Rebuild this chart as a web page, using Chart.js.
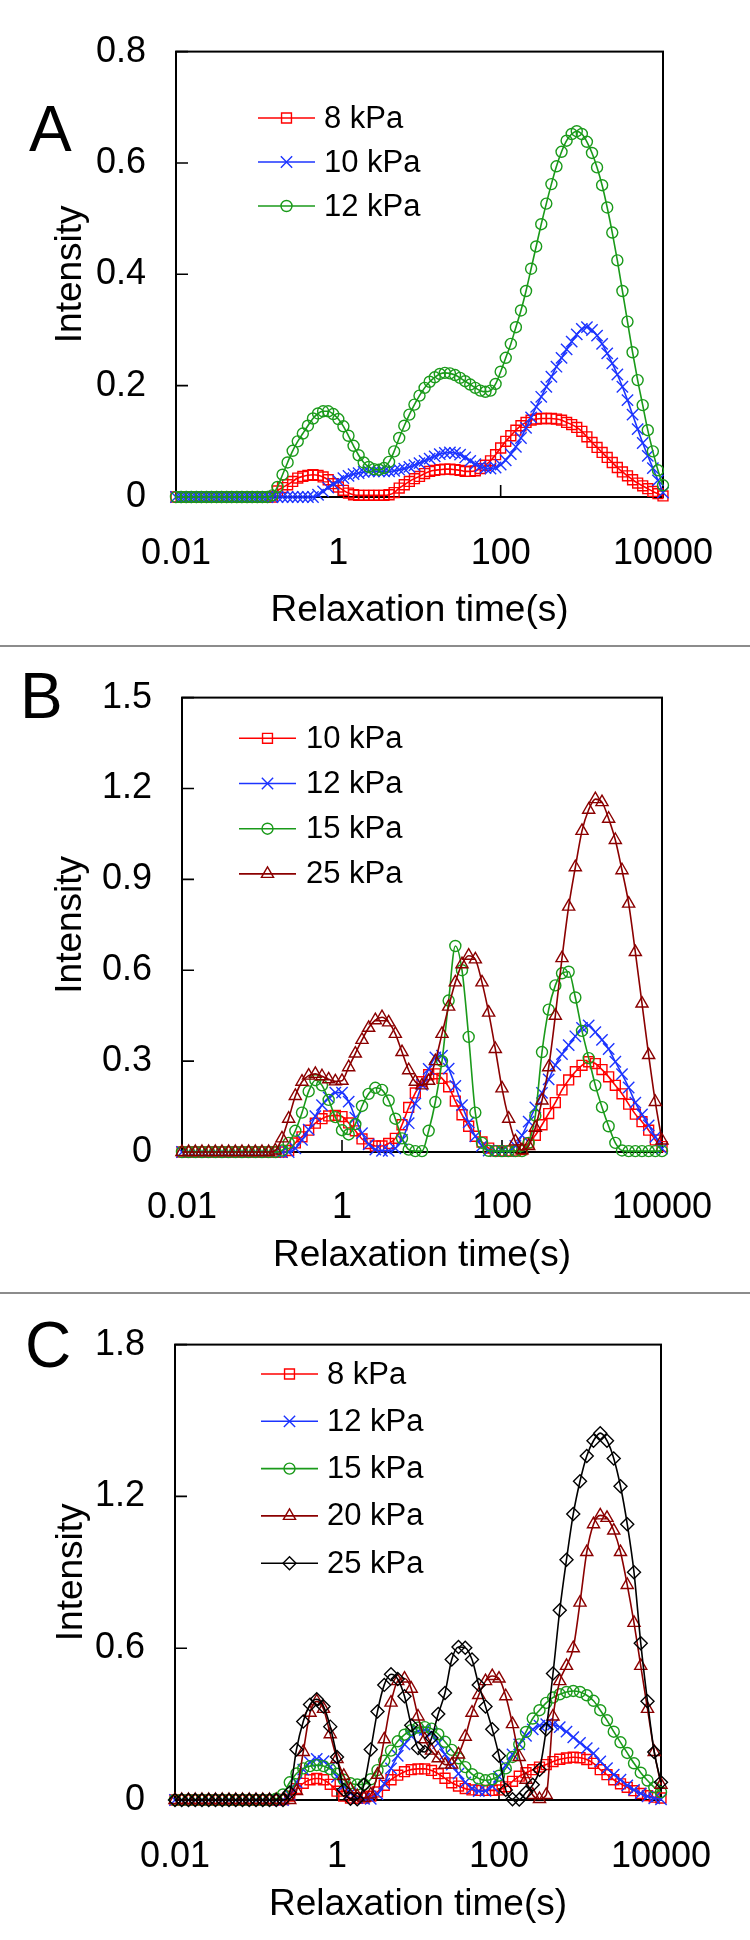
<!DOCTYPE html>
<html>
<head>
<meta charset="utf-8">
<script src="https://cdn.jsdelivr.net/npm/chart.js@4/dist/chart.umd.min.js"></script>
<style>
  html, body { margin: 0; padding: 0; background: #ffffff; }
  #wrap { position: relative; width: 750px; height: 1940px; background: #ffffff; overflow: hidden; }
  canvas { position: absolute; left: 0; }
  .sep { position: absolute; left: 0; width: 750px; height: 2px; background: #8c8c8c; }
</style>
</head>
<body>
<div id="wrap">
  <canvas id="chartA" width="750" height="646" style="top:0px"></canvas>
  <canvas id="chartB" width="750" height="647" style="top:646px"></canvas>
  <canvas id="chartC" width="750" height="647" style="top:1293px"></canvas>
  <div class="sep" style="top:645px"></div>
  <div class="sep" style="top:1292px"></div>
</div>
<script>
// ---------------- DATA ----------------
const relaxTimeA = [
  0.01,0.01155,0.01334,0.0154,0.01778,0.02054,0.02371,0.02738,0.03162,0.03652,0.04217,0.0487,0.05623,0.06494,0.07499,0.0866,
  0.1,0.1155,0.1334,0.154,0.1778,0.2054,0.2371,0.2738,0.3162,0.3652,0.4217,0.487,0.5623,0.6494,0.7499,0.866,
  1,1.155,1.334,1.54,1.778,2.054,2.371,2.738,3.162,3.652,4.217,4.87,5.623,6.494,7.499,8.66,
  10,11.55,13.34,15.4,17.78,20.54,23.71,27.38,31.62,36.52,42.17,48.7,56.23,64.94,74.99,86.6,
  100,115.5,133.4,154,177.8,205.4,237.1,273.8,316.2,365.2,421.7,487,562.3,649.4,749.9,866,
  1000,1155,1334,1540,1778,2054,2371,2738,3162,3652,4217,4870,5623,6494,7499,8660,
  10000];

const relaxTimeBC = [
  0.01,0.01212,0.01468,0.01778,0.02154,0.0261,0.03162,0.03831,0.04642,0.05623,0.06813,0.08254,
  0.1,0.1212,0.1468,0.1778,0.2154,0.261,0.3162,0.3831,0.4642,0.5623,0.6813,0.8254,
  1,1.212,1.468,1.778,2.154,2.61,3.162,3.831,4.642,5.623,6.813,8.254,
  10,12.12,14.68,17.78,21.54,26.1,31.62,38.31,46.42,56.23,68.13,82.54,
  100,121.2,146.8,177.8,215.4,261,316.2,383.1,464.2,562.3,681.3,825.4,
  1000,1212,1468,1778,2154,2610,3162,3831,4642,5623,6813,8254,
  10000];

// Panel A
const A_8kPa = [
  0,0,0,0,0,0,0,0,0,0,0,0,0,0,0,0,
  0,0,0,0,0.011,0.017,0.022,0.028,0.034,0.037,0.039,0.04,0.039,0.036,0.031,0.024,
  0.018,0.012,0.007,0.004,0.003,0.003,0.003,0.003,0.003,0.003,0.004,0.008,0.016,0.022,0.028,0.033,
  0.037,0.042,0.046,0.048,0.049,0.05,0.05,0.049,0.048,0.046,0.046,0.047,0.051,0.057,0.065,0.076,
  0.088,0.1,0.11,0.12,0.128,0.134,0.138,0.14,0.141,0.141,0.141,0.14,0.138,0.134,0.13,0.125,
  0.118,0.108,0.098,0.089,0.08,0.071,0.062,0.053,0.045,0.038,0.031,0.025,0.02,0.015,0.01,0.006,
  0.002];
const A_10kPa = [
  0,0,0,0,0,0,0,0,0,0,0,0,0,0,0,0,
  0,0,0,0,0,0,0,0,0,0,0,0,0.004,0.01,0.017,0.023,
  0.029,0.034,0.038,0.041,0.043,0.045,0.046,0.046,0.046,0.046,0.046,0.047,0.049,0.051,0.054,0.057,
  0.061,0.065,0.069,0.073,0.077,0.079,0.08,0.079,0.076,0.071,0.065,0.059,0.055,0.052,0.051,0.053,
  0.058,0.066,0.077,0.09,0.106,0.124,0.143,0.162,0.18,0.198,0.216,0.234,0.25,0.265,0.279,0.292,
  0.302,0.305,0.3,0.29,0.275,0.258,0.24,0.22,0.198,0.174,0.148,0.122,0.097,0.074,0.052,0.03,
  0.008];
const A_12kPa = [
  0,0,0,0,0,0,0,0,0,0,0,0,0,0,0,0,
  0,0,0,0.003,0.018,0.04,0.062,0.083,0.1,0.114,0.128,0.141,0.15,0.154,0.154,0.149,
  0.14,0.127,0.11,0.092,0.075,0.062,0.054,0.05,0.049,0.052,0.063,0.082,0.106,0.128,0.148,0.166,
  0.182,0.196,0.207,0.215,0.221,0.223,0.222,0.219,0.214,0.208,0.202,0.196,0.191,0.189,0.191,0.203,
  0.225,0.25,0.275,0.305,0.335,0.37,0.41,0.45,0.49,0.527,0.562,0.594,0.62,0.64,0.652,0.657,
  0.652,0.638,0.618,0.592,0.56,0.52,0.475,0.425,0.37,0.315,0.26,0.21,0.165,0.12,0.082,0.048,
  0.021];

// Panel B
const B_10kPa = [
  0,0,0,0,0,0,0,0,0,0,0,0,
  0,0,0,0,0.005,0.03,0.05,0.072,0.095,0.11,0.119,0.121,
  0.117,0.096,0.07,0.043,0.028,0.02,0.02,0.028,0.045,0.09,0.147,0.195,
  0.232,0.255,0.258,0.243,0.215,0.168,0.123,0.085,0.052,0.033,0.013,0.004,
  0.003,0.003,0.003,0.008,0.03,0.055,0.09,0.127,0.163,0.205,0.238,0.265,
  0.286,0.298,0.292,0.272,0.248,0.22,0.192,0.158,0.125,0.1,0.072,0.04,
  0.018];
const B_12kPa = [
  0,0,0,0,0,0,0,0,0,0,0,0,
  0,0,0,0,0,0.012,0.04,0.074,0.118,0.155,0.18,0.196,
  0.196,0.166,0.113,0.062,0.025,0.008,0.004,0.004,0.012,0.04,0.095,0.16,
  0.222,0.274,0.312,0.318,0.275,0.218,0.155,0.098,0.052,0.02,0.005,0.003,
  0.003,0.003,0.02,0.055,0.1,0.147,0.195,0.24,0.287,0.323,0.353,0.382,
  0.41,0.418,0.396,0.37,0.34,0.298,0.257,0.213,0.163,0.124,0.088,0.05,
  0.011];
const B_15kPa = [
  0,0,0,0,0,0,0,0,0,0,0,0,
  0,0,0,0.005,0.03,0.07,0.13,0.2,0.237,0.22,0.172,0.115,
  0.072,0.058,0.092,0.152,0.192,0.212,0.205,0.17,0.11,0.045,0.008,0.003,
  0.003,0.07,0.165,0.3,0.5,0.68,0.6,0.38,0.13,0.03,0.004,0.003,
  0.003,0.003,0.003,0.003,0.03,0.12,0.33,0.47,0.55,0.59,0.595,0.51,
  0.4,0.31,0.22,0.148,0.085,0.03,0.005,0.003,0.003,0.003,0.003,0.003,
  0.003];
const B_25kPa = [
  0,0,0,0,0,0,0,0,0,0,0,0,
  0,0,0.005,0.045,0.11,0.185,0.232,0.252,0.258,0.25,0.24,0.233,
  0.235,0.28,0.325,0.37,0.41,0.435,0.445,0.428,0.39,0.33,0.27,0.232,
  0.22,0.235,0.3,0.39,0.48,0.56,0.62,0.648,0.636,0.56,0.46,0.34,
  0.21,0.11,0.035,0.006,0.02,0.08,0.17,0.28,0.45,0.64,0.81,0.94,
  1.06,1.13,1.165,1.155,1.1,1.03,0.93,0.82,0.66,0.49,0.32,0.165,
  0.038];

// Panel C
const C_8kPa = [
  0,0,0,0,0,0,0,0,0,0,0,0,
  0,0,0,0,0.002,0.015,0.045,0.066,0.08,0.085,0.08,0.062,
  0.035,0.015,0.008,0.007,0.008,0.015,0.032,0.058,0.08,0.098,0.112,0.12,
  0.123,0.123,0.117,0.104,0.086,0.068,0.055,0.045,0.04,0.038,0.038,0.038,
  0.04,0.052,0.074,0.094,0.108,0.12,0.13,0.14,0.152,0.161,0.166,0.169,
  0.167,0.16,0.145,0.12,0.1,0.08,0.064,0.05,0.037,0.026,0.017,0.011,
  0.008];
const C_12kPa = [
  0,0,0,0,0,0,0,0,0,0,0,0,
  0,0,0,0,0,0.02,0.07,0.12,0.15,0.162,0.154,0.131,
  0.092,0.057,0.027,0.008,0.005,0.005,0.023,0.065,0.125,0.175,0.22,0.253,
  0.272,0.277,0.265,0.225,0.18,0.14,0.104,0.07,0.046,0.035,0.036,0.055,
  0.092,0.137,0.18,0.22,0.254,0.279,0.294,0.3,0.298,0.288,0.27,0.248,
  0.226,0.205,0.184,0.153,0.126,0.1,0.08,0.058,0.04,0.026,0.014,0.007,
  0.003];
const C_15kPa = [
  0,0,0,0,0,0,0,0,0,0,0,0,
  0,0,0,0.005,0.022,0.07,0.105,0.125,0.134,0.138,0.134,0.122,
  0.104,0.08,0.066,0.061,0.062,0.082,0.118,0.155,0.195,0.232,0.258,0.276,
  0.286,0.288,0.282,0.26,0.23,0.198,0.165,0.13,0.102,0.085,0.078,0.082,
  0.096,0.125,0.17,0.22,0.269,0.322,0.355,0.384,0.405,0.418,0.427,0.431,
  0.427,0.414,0.392,0.355,0.315,0.27,0.228,0.186,0.145,0.108,0.077,0.05,
  0.031];
const C_20kPa = [
  0,0,0,0,0,0,0,0,0,0,0,0,
  0,0,0,0,0,0,0.035,0.19,0.345,0.39,0.36,0.26,
  0.162,0.095,0.042,0.015,0.008,0.022,0.1,0.24,0.385,0.47,0.48,0.44,
  0.33,0.24,0.195,0.165,0.14,0.14,0.18,0.25,0.345,0.415,0.47,0.49,
  0.48,0.41,0.3,0.17,0.08,0.02,0.004,0.02,0.33,0.47,0.53,0.6,
  0.78,0.98,1.09,1.125,1.115,1.065,0.98,0.85,0.7,0.53,0.36,0.19,
  0.06];
const C_25kPa = [
  0,0,0,0,0,0,0,0,0,0,0,0,
  0,0,0,0,0,0.03,0.2,0.31,0.377,0.398,0.37,0.29,
  0.17,0.04,0.005,0.003,0.06,0.2,0.35,0.455,0.497,0.478,0.41,0.295,
  0.205,0.19,0.245,0.34,0.423,0.555,0.605,0.602,0.555,0.455,0.37,0.28,
  0.175,0.04,0.003,0.002,0.03,0.06,0.12,0.28,0.5,0.75,0.95,1.13,
  1.26,1.36,1.42,1.45,1.42,1.35,1.24,1.09,0.9,0.62,0.39,0.19,
  0.07];

const seriesLabelsA = ['8 kPa', '10 kPa', '12 kPa'];
const seriesLabelsB = ['10 kPa', '12 kPa', '15 kPa', '25 kPa'];
const seriesLabelsC = ['8 kPa', '12 kPa', '15 kPa', '20 kPa', '25 kPa'];

const xTickValues = [0.01, 1, 100, 10000];
const xTickLabels = ['0.01', '1', '100', '10000'];
const yTickValuesA = [0, 0.2, 0.4, 0.6, 0.8];
const yTickLabelsA = ['0', '0.2', '0.4', '0.6', '0.8'];
const yTickValuesB = [0, 0.3, 0.6, 0.9, 1.2, 1.5];
const yTickLabelsB = ['0', '0.3', '0.6', '0.9', '1.2', '1.5'];
const yTickValuesC = [0, 0.6, 1.2, 1.8];
const yTickLabelsC = ['0', '0.6', '1.2', '1.8'];

const xAxisTitle = 'Relaxation time(s)';
const yAxisTitle = 'Intensity';

// ---------------- STYLES ----------------
const FONT = '"Liberation Sans", Arial, Helvetica, sans-serif';
const STYLE = {
  red:     { color: '#FF0000', pointStyle: 'rect',      radius: 7 },
  blue:    { color: '#1C34FF', pointStyle: 'crossRot',  radius: 8 },
  green:   { color: '#1A9A1A', pointStyle: 'circle',    radius: 5.5 },
  darkred: { color: '#8B0000', pointStyle: 'triangle',  radius: 7 },
  black:   { color: '#000000', pointStyle: 'rectRot',   radius: 6.5 }
};

Chart.defaults.font.family = FONT;
Chart.defaults.color = '#000';

function drawMarker(ctx, style, x, y) {
  if (Chart.helpers && Chart.helpers.drawPoint) {
    Chart.helpers.drawPoint(ctx, { pointStyle: style.pointStyle, radius: style.radius, rotation: 0, borderWidth: 1.4 }, x, y);
    return;
  }
  ctx.beginPath();
  ctx.arc(x, y, style.radius, 0, Math.PI * 2);
  ctx.stroke();
}

function makeChart(canvasId, panel) {
  const datasets = panel.series.map((s, k) => ({
    label: s.label,
    data: panel.x.map((xv, i) => ({ x: xv, y: s.values[i] })),
    borderColor: s.style.color,
    backgroundColor: 'rgba(0,0,0,0)',
    borderWidth: 1.6,
    pointStyle: s.style.pointStyle,
    pointRadius: s.style.radius,
    pointHoverRadius: s.style.radius,
    pointBorderColor: s.style.color,
    pointBackgroundColor: 'rgba(0,0,0,0)',
    pointBorderWidth: 1.4,
    cubicInterpolationMode: 'monotone',
    clip: false,
    order: panel.series.length - k
  }));

  const decor = {
    id: 'decor' + canvasId,
    beforeDatasetsDraw(chart) {
      const { ctx, chartArea: a, scales } = chart;
      ctx.save();
      ctx.strokeStyle = '#000';
      ctx.lineWidth = 1.6;
      ctx.beginPath();
      scales.x.ticks.forEach(t => {
        const px = scales.x.getPixelForValue(t.value);
        ctx.moveTo(px, a.bottom);
        ctx.lineTo(px, a.bottom - 12);
      });
      scales.y.ticks.forEach(t => {
        const py = scales.y.getPixelForValue(t.value);
        ctx.moveTo(a.left, py);
        ctx.lineTo(a.left + 12, py);
      });
      ctx.stroke();
      ctx.lineWidth = 2;
      ctx.strokeRect(a.left, a.top, a.right - a.left, a.bottom - a.top);
      ctx.restore();
    },
    afterDraw(chart) {
      const ctx = chart.ctx;
      ctx.save();
      // panel letter
      ctx.fillStyle = '#000';
      ctx.font = '64px ' + FONT;
      ctx.textBaseline = 'alphabetic';
      ctx.textAlign = 'left';
      ctx.fillText(panel.letter, panel.letterX, panel.letterBaseline);
      // legend
      const lg = panel.legend;
      chart.data.datasets.forEach((ds, k) => {
        const y = lg.y0 + k * lg.dy;
        const st = panel.series[k].style;
        ctx.strokeStyle = st.color;
        ctx.lineWidth = 1.6;
        ctx.beginPath();
        ctx.moveTo(lg.x1, y);
        ctx.lineTo(lg.x2, y);
        ctx.stroke();
        ctx.fillStyle = 'rgba(0,0,0,0)';
        ctx.lineWidth = 1.4;
        drawMarker(ctx, st, (lg.x1 + lg.x2) / 2, y);
        ctx.fillStyle = '#000';
        ctx.font = '31px ' + FONT;
        ctx.textBaseline = 'middle';
        ctx.textAlign = 'left';
        ctx.fillText(ds.label, lg.textX, y + 1);
      });
      ctx.restore();
    }
  };

  return new Chart(document.getElementById(canvasId), {
    type: 'line',
    data: { datasets },
    options: {
      responsive: false,
      animation: false,
      devicePixelRatio: 1,
      events: [],
      layout: { padding: { left: 0, top: panel.padTop, right: panel.padRight, bottom: 0 } },
      plugins: { legend: { display: false }, tooltip: { enabled: false } },
      scales: {
        x: {
          type: 'logarithmic',
          min: 0.01,
          max: 10000,
          afterBuildTicks: s => { s.ticks = xTickValues.map(v => ({ value: v })); },
          afterFit: s => { s.height = panel.xAxisHeight; },
          grid: { display: false, drawTicks: false },
          border: { display: false },
          ticks: {
            autoSkip: false, maxRotation: 0, minRotation: 0,
            padding: panel.xTickPad,
            color: '#000',
            font: { size: 36, family: FONT },
            callback: (v, i) => xTickLabels[i]
          },
          title: {
            display: true, text: xAxisTitle, color: '#000',
            font: { size: 37, family: FONT },
            padding: { top: 0, bottom: panel.xTitlePad }
          }
        },
        y: {
          type: 'linear',
          min: 0,
          max: panel.yMax,
          afterBuildTicks: s => { s.ticks = panel.yTicks.map(v => ({ value: v })); },
          afterFit: s => { s.width = panel.yAxisWidth; },
          grid: { display: false, drawTicks: false },
          border: { display: false },
          ticks: {
            autoSkip: false,
            padding: 30,
            color: '#000',
            font: { size: 36, family: FONT },
            callback: (v, i) => panel.yTickLabels[i]
          },
          title: {
            display: true, text: yAxisTitle, color: '#000',
            font: { size: 37, family: FONT },
            padding: { top: panel.yTitlePad, bottom: 0 }
          }
        }
      }
    },
    plugins: [decor]
  });
}

makeChart('chartA', {
  letter: 'A', letterX: 29, letterBaseline: 151,
  x: relaxTimeA,
  series: [
    { label: seriesLabelsA[0], values: A_8kPa,  style: STYLE.red },
    { label: seriesLabelsA[1], values: A_10kPa, style: STYLE.blue },
    { label: seriesLabelsA[2], values: A_12kPa, style: STYLE.green }
  ],
  yMax: 0.8, yTicks: yTickValuesA, yTickLabels: yTickLabelsA,
  padTop: 48, padRight: 87, yAxisWidth: 176, xAxisHeight: 149,
  xTickPad: 35, xTitlePad: 13, yTitlePad: 49,
  legend: { x1: 258, x2: 315, textX: 324, y0: 118, dy: 44 }
});

makeChart('chartB', {
  letter: 'B', letterX: 20, letterBaseline: 72,
  x: relaxTimeBC,
  series: [
    { label: seriesLabelsB[0], values: B_10kPa, style: STYLE.red },
    { label: seriesLabelsB[1], values: B_12kPa, style: STYLE.blue },
    { label: seriesLabelsB[2], values: B_15kPa, style: STYLE.green },
    { label: seriesLabelsB[3], values: B_25kPa, style: STYLE.darkred }
  ],
  yMax: 1.5, yTicks: yTickValuesB, yTickLabels: yTickLabelsB,
  padTop: 47, padRight: 88, yAxisWidth: 182, xAxisHeight: 141,
  xTickPad: 34, xTitlePad: 15, yTitlePad: 49,
  legend: { x1: 239, x2: 296, textX: 306, y0: 92.3, dy: 45.2 }
});

makeChart('chartC', {
  letter: 'C', letterX: 25, letterBaseline: 74,
  x: relaxTimeBC,
  series: [
    { label: seriesLabelsC[0], values: C_8kPa,  style: STYLE.red },
    { label: seriesLabelsC[1], values: C_12kPa, style: STYLE.blue },
    { label: seriesLabelsC[2], values: C_15kPa, style: STYLE.green },
    { label: seriesLabelsC[3], values: C_20kPa, style: STYLE.darkred },
    { label: seriesLabelsC[4], values: C_25kPa, style: STYLE.black }
  ],
  yMax: 1.8, yTicks: yTickValuesC, yTickLabels: yTickLabelsC,
  padTop: 45, padRight: 89, yAxisWidth: 175, xAxisHeight: 140,
  xTickPad: 35, xTitlePad: 13, yTitlePad: 50,
  legend: { x1: 261, x2: 318, textX: 327, y0: 81, dy: 47.3 }
});
</script>
</body>
</html>
